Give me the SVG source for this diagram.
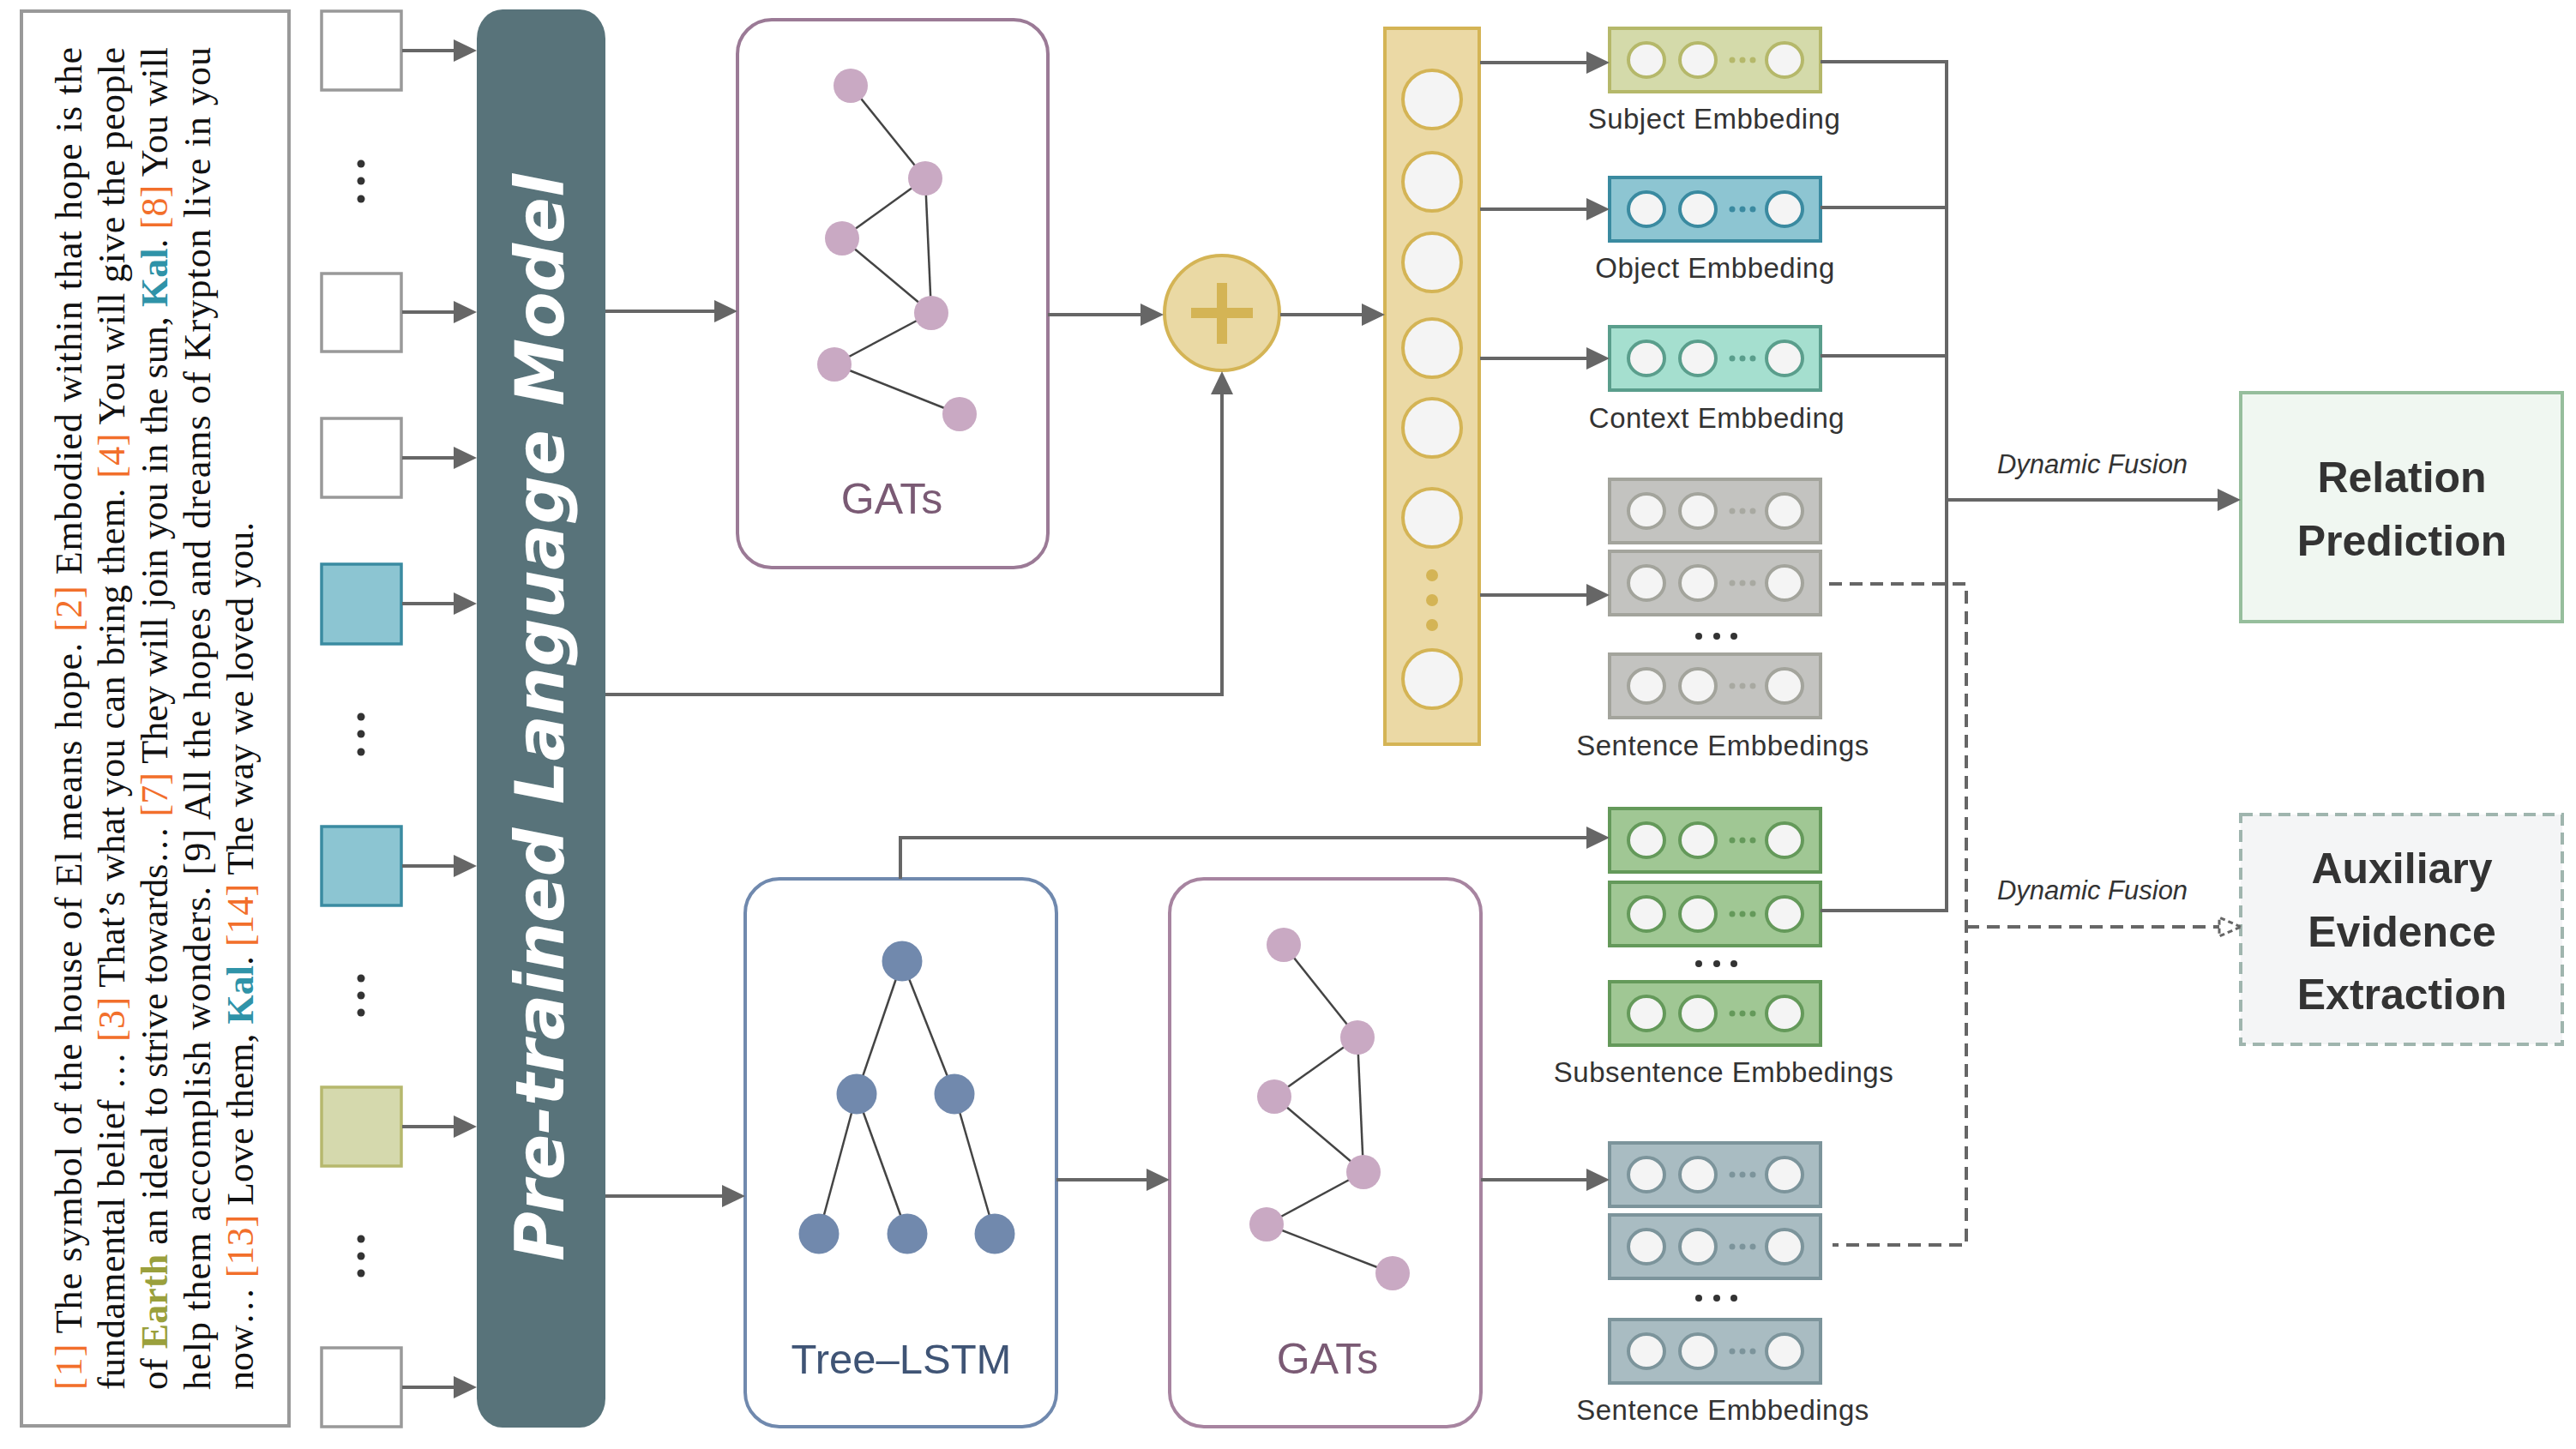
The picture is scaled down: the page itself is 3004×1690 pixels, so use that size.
<svg xmlns="http://www.w3.org/2000/svg" width="3004" height="1690" viewBox="0 0 3004 1690">
<defs>
<style>
.conn{fill:none;stroke:#666;stroke-width:4}
.dash{fill:none;stroke:#666;stroke-width:4;stroke-dasharray:15 9}
.edge{stroke:#444;stroke-width:2.5}
.pn{fill:#C9A9C3}
.tn{fill:#7189AD}
.inw{fill:#fff;stroke:#999;stroke-width:3.5}
.inb{fill:#8CC5D2;stroke:#3A8BA1;stroke-width:3.5}
.ino{fill:#D5D9AD;stroke:#B6B86D;stroke-width:3.5}
.dot{fill:#333}
.para{font-family:"Liberation Serif",serif;font-size:44px;fill:#111}
.o{fill:#F26F2B}
.e{fill:#9AA03C;font-weight:bold}
.k{fill:#2F93A8;font-weight:bold}
.lbl{font-family:"Liberation Sans",Arial,sans-serif;font-size:33px;fill:#333;text-anchor:middle;letter-spacing:0.5px}
.big{font-family:"Liberation Sans",Arial,sans-serif;font-size:50px;font-weight:bold;fill:#333;text-anchor:middle}
.df{font-family:"Liberation Sans",Arial,sans-serif;font-size:31px;font-style:italic;fill:#333;text-anchor:middle}
.cell{fill:#F4F4F4;stroke-width:4}
</style>
<marker id="ah" viewBox="0 0 27 26" refX="19" refY="13" markerWidth="27" markerHeight="26" markerUnits="userSpaceOnUse" orient="auto">
<path d="M0,0 L27,13 L0,26 z" fill="#666"/>
</marker>
</defs>

<g id="text-panel">
<rect x="25" y="13" width="312" height="1650" fill="#fff" stroke="#999" stroke-width="4"/>
<text class="para" transform="translate(95,1621) rotate(-90)" textLength="1566" lengthAdjust="spacing"><tspan class="o">[1]</tspan> The symbol of the house of El means hope. <tspan class="o">[2]</tspan> Embodied within that hope is the</text>
<text class="para" transform="translate(145,1621) rotate(-90)" textLength="1566" lengthAdjust="spacing">fundamental belief … <tspan class="o">[3]</tspan> That’s what you can bring them. <tspan class="o">[4]</tspan> You will give the people</text>
<text class="para" transform="translate(195,1621) rotate(-90)" textLength="1566" lengthAdjust="spacing">of <tspan class="e">Earth</tspan> an ideal to strive towards… <tspan class="o">[7]</tspan> They will join you in the sun, <tspan class="k">Kal</tspan>. <tspan class="o">[8]</tspan> You will</text>
<text class="para" transform="translate(245,1621) rotate(-90)" textLength="1566" lengthAdjust="spacing">help them accomplish wonders. [9] All the hopes and dreams of Krypton live in you</text>
<text class="para" transform="translate(295,1621) rotate(-90)">now… <tspan class="o">[13]</tspan> Love them, <tspan class="k">Kal</tspan>. <tspan class="o">[14]</tspan> The way we loved you.</text>
</g>

<g id="inputs">
<rect class="inw" x="375" y="13" width="93" height="92"/>
<rect class="inw" x="375" y="319" width="93" height="91"/>
<rect class="inw" x="375" y="488" width="93" height="92"/>
<rect class="inb" x="375" y="658" width="93" height="93"/>
<rect class="inb" x="375" y="964" width="93" height="92"/>
<rect class="ino" x="375" y="1268" width="93" height="92"/>
<rect class="inw" x="375" y="1572" width="93" height="92"/>
<circle class="dot" cx="421" cy="191" r="4.5"/><circle class="dot" cx="421" cy="211" r="4.5"/><circle class="dot" cx="421" cy="232" r="4.5"/>
<circle class="dot" cx="421" cy="836" r="4.5"/><circle class="dot" cx="421" cy="856" r="4.5"/><circle class="dot" cx="421" cy="877" r="4.5"/>
<circle class="dot" cx="421" cy="1141" r="4.5"/><circle class="dot" cx="421" cy="1161" r="4.5"/><circle class="dot" cx="421" cy="1181" r="4.5"/>
<circle class="dot" cx="421" cy="1445" r="4.5"/><circle class="dot" cx="421" cy="1465" r="4.5"/><circle class="dot" cx="421" cy="1485" r="4.5"/>
</g>

<g id="plm">
<rect x="556" y="11" width="150" height="1654" rx="30" ry="34" fill="#58737A"/>
<text transform="translate(657,837) rotate(-90)" text-anchor="middle" font-family="'DejaVu Sans',Verdana,sans-serif" font-size="79" font-weight="bold" font-style="italic" fill="#fff" textLength="1268" lengthAdjust="spacing">Pre-trained Language Model</text>
</g>

<g id="gats-top">
<rect x="860" y="23" width="362" height="639" rx="40" fill="#fff" stroke="#9B7A96" stroke-width="4"/>
<line class="edge" x1="992" y1="100" x2="1079" y2="208"/>
<line class="edge" x1="1079" y1="208" x2="982" y2="278"/>
<line class="edge" x1="1079" y1="208" x2="1086" y2="365"/>
<line class="edge" x1="982" y1="278" x2="1086" y2="365"/>
<line class="edge" x1="1086" y1="365" x2="973" y2="425"/>
<line class="edge" x1="973" y1="425" x2="1119" y2="483"/>
<circle class="pn" cx="992" cy="100" r="20"/>
<circle class="pn" cx="1079" cy="208" r="20"/>
<circle class="pn" cx="982" cy="278" r="20"/>
<circle class="pn" cx="1086" cy="365" r="20"/>
<circle class="pn" cx="973" cy="425" r="20"/>
<circle class="pn" cx="1119" cy="483" r="20"/>
<text x="1040" y="599" text-anchor="middle" font-family="'Liberation Sans',Arial,sans-serif" font-size="50" fill="#7A5A74">GATs</text>
</g>

<g id="plus">
<circle cx="1425" cy="365" r="67" fill="#EAD9A4" stroke="#D4B455" stroke-width="4"/>
<rect x="1389" y="359" width="72" height="12" fill="#D4B455"/>
<rect x="1419" y="330" width="12" height="71" fill="#D4B455"/>
</g>

<g id="column">
<rect x="1615" y="33" width="110" height="835" fill="#EBD9A5" stroke="#D4B455" stroke-width="4"/>
<g fill="#F4F4F4" stroke="#D4B455" stroke-width="4">
<ellipse cx="1670" cy="116" rx="34" ry="34"/>
<ellipse cx="1670" cy="212" rx="34" ry="34"/>
<ellipse cx="1670" cy="306" rx="34" ry="34"/>
<ellipse cx="1670" cy="406" rx="34" ry="34"/>
<ellipse cx="1670" cy="499" rx="34" ry="34"/>
<ellipse cx="1670" cy="604" rx="34" ry="34"/>
<ellipse cx="1670" cy="792" rx="34" ry="34"/>
</g>
<g fill="#D4B455">
<circle cx="1670" cy="671" r="7"/><circle cx="1670" cy="700" r="7"/><circle cx="1670" cy="729" r="7"/>
</g>
</g>

<g id="subject-emb">
<rect x="1877" y="33" width="246" height="74" fill="#D4DAAA" stroke="#B5B86A" stroke-width="4"/>
<g class="cell" stroke="#B5B86A"><ellipse cx="1920" cy="70" rx="21" ry="20"/><ellipse cx="1980" cy="70" rx="21" ry="20"/><ellipse cx="2081" cy="70" rx="21" ry="20"/></g>
<g fill="#B5B86A"><circle cx="2020" cy="70" r="3.5"/><circle cx="2032" cy="70" r="3.5"/><circle cx="2044" cy="70" r="3.5"/></g>
<text class="lbl" x="1999" y="150">Subject Embbeding</text>
</g>

<g id="object-emb">
<rect x="1877" y="207" width="246" height="74" fill="#8DC5D2" stroke="#3A8AA0" stroke-width="4"/>
<g class="cell" stroke="#3A8AA0"><ellipse cx="1920" cy="244" rx="21" ry="20"/><ellipse cx="1980" cy="244" rx="21" ry="20"/><ellipse cx="2081" cy="244" rx="21" ry="20"/></g>
<g fill="#3A8AA0"><circle cx="2020" cy="244" r="3.5"/><circle cx="2032" cy="244" r="3.5"/><circle cx="2044" cy="244" r="3.5"/></g>
<text class="lbl" x="2000" y="324">Object Embbeding</text>
</g>

<g id="context-emb">
<rect x="1877" y="381" width="246" height="74" fill="#A5DFCF" stroke="#5A9E8C" stroke-width="4"/>
<g class="cell" stroke="#5A9E8C"><ellipse cx="1920" cy="418" rx="21" ry="20"/><ellipse cx="1980" cy="418" rx="21" ry="20"/><ellipse cx="2081" cy="418" rx="21" ry="20"/></g>
<g fill="#5A9E8C"><circle cx="2020" cy="418" r="3.5"/><circle cx="2032" cy="418" r="3.5"/><circle cx="2044" cy="418" r="3.5"/></g>
<text class="lbl" x="2002" y="499">Context Embbeding</text>
</g>

<g id="sentence-emb-top">
<rect x="1877" y="559" width="246" height="74" fill="#C3C3C0" stroke="#A3A49C" stroke-width="4"/>
<rect x="1877" y="643" width="246" height="74" fill="#C3C3C0" stroke="#A3A49C" stroke-width="4"/>
<rect x="1877" y="763" width="246" height="74" fill="#C3C3C0" stroke="#A3A49C" stroke-width="4"/>
<g class="cell" stroke="#A3A49C">
<ellipse cx="1920" cy="596" rx="21" ry="20"/><ellipse cx="1980" cy="596" rx="21" ry="20"/><ellipse cx="2081" cy="596" rx="21" ry="20"/>
<ellipse cx="1920" cy="680" rx="21" ry="20"/><ellipse cx="1980" cy="680" rx="21" ry="20"/><ellipse cx="2081" cy="680" rx="21" ry="20"/>
<ellipse cx="1920" cy="800" rx="21" ry="20"/><ellipse cx="1980" cy="800" rx="21" ry="20"/><ellipse cx="2081" cy="800" rx="21" ry="20"/>
</g>
<g fill="#A8A9A1">
<circle cx="2020" cy="596" r="3.5"/><circle cx="2032" cy="596" r="3.5"/><circle cx="2044" cy="596" r="3.5"/>
<circle cx="2020" cy="680" r="3.5"/><circle cx="2032" cy="680" r="3.5"/><circle cx="2044" cy="680" r="3.5"/>
<circle cx="2020" cy="800" r="3.5"/><circle cx="2032" cy="800" r="3.5"/><circle cx="2044" cy="800" r="3.5"/>
</g>
<g class="dot"><circle cx="1981" cy="742" r="4"/><circle cx="2002" cy="742" r="4"/><circle cx="2022" cy="742" r="4"/></g>
<text class="lbl" x="2009" y="881">Sentence Embbedings</text>
</g>

<g id="subsentence-emb">
<rect x="1877" y="943" width="246" height="74" fill="#A0C794" stroke="#64995A" stroke-width="4"/>
<rect x="1877" y="1029" width="246" height="74" fill="#A0C794" stroke="#64995A" stroke-width="4"/>
<rect x="1877" y="1145" width="246" height="74" fill="#A0C794" stroke="#64995A" stroke-width="4"/>
<g class="cell" stroke="#64995A">
<ellipse cx="1920" cy="980" rx="21" ry="20"/><ellipse cx="1980" cy="980" rx="21" ry="20"/><ellipse cx="2081" cy="980" rx="21" ry="20"/>
<ellipse cx="1920" cy="1066" rx="21" ry="20"/><ellipse cx="1980" cy="1066" rx="21" ry="20"/><ellipse cx="2081" cy="1066" rx="21" ry="20"/>
<ellipse cx="1920" cy="1182" rx="21" ry="20"/><ellipse cx="1980" cy="1182" rx="21" ry="20"/><ellipse cx="2081" cy="1182" rx="21" ry="20"/>
</g>
<g fill="#64995A">
<circle cx="2020" cy="980" r="3.5"/><circle cx="2032" cy="980" r="3.5"/><circle cx="2044" cy="980" r="3.5"/>
<circle cx="2020" cy="1066" r="3.5"/><circle cx="2032" cy="1066" r="3.5"/><circle cx="2044" cy="1066" r="3.5"/>
<circle cx="2020" cy="1182" r="3.5"/><circle cx="2032" cy="1182" r="3.5"/><circle cx="2044" cy="1182" r="3.5"/>
</g>
<g class="dot"><circle cx="1981" cy="1124" r="4"/><circle cx="2002" cy="1124" r="4"/><circle cx="2022" cy="1124" r="4"/></g>
<text class="lbl" x="2010" y="1262">Subsentence Embbedings</text>
</g>

<g id="sentence-emb-bottom">
<rect x="1877" y="1333" width="246" height="74" fill="#A9BCC2" stroke="#7C949B" stroke-width="4"/>
<rect x="1877" y="1417" width="246" height="74" fill="#A9BCC2" stroke="#7C949B" stroke-width="4"/>
<rect x="1877" y="1539" width="246" height="74" fill="#A9BCC2" stroke="#7C949B" stroke-width="4"/>
<g class="cell" stroke="#7C949B">
<ellipse cx="1920" cy="1370" rx="21" ry="20"/><ellipse cx="1980" cy="1370" rx="21" ry="20"/><ellipse cx="2081" cy="1370" rx="21" ry="20"/>
<ellipse cx="1920" cy="1454" rx="21" ry="20"/><ellipse cx="1980" cy="1454" rx="21" ry="20"/><ellipse cx="2081" cy="1454" rx="21" ry="20"/>
<ellipse cx="1920" cy="1576" rx="21" ry="20"/><ellipse cx="1980" cy="1576" rx="21" ry="20"/><ellipse cx="2081" cy="1576" rx="21" ry="20"/>
</g>
<g fill="#7C949B">
<circle cx="2020" cy="1370" r="3.5"/><circle cx="2032" cy="1370" r="3.5"/><circle cx="2044" cy="1370" r="3.5"/>
<circle cx="2020" cy="1454" r="3.5"/><circle cx="2032" cy="1454" r="3.5"/><circle cx="2044" cy="1454" r="3.5"/>
<circle cx="2020" cy="1576" r="3.5"/><circle cx="2032" cy="1576" r="3.5"/><circle cx="2044" cy="1576" r="3.5"/>
</g>
<g class="dot"><circle cx="1981" cy="1514" r="4"/><circle cx="2002" cy="1514" r="4"/><circle cx="2022" cy="1514" r="4"/></g>
<text class="lbl" x="2009" y="1656">Sentence Embbedings</text>
</g>

<g id="tree-lstm">
<rect x="869" y="1025" width="363" height="639" rx="40" fill="#fff" stroke="#7089AE" stroke-width="4"/>
<line class="edge" x1="1052" y1="1121" x2="999" y2="1276"/>
<line class="edge" x1="1052" y1="1121" x2="1113" y2="1276"/>
<line class="edge" x1="999" y1="1276" x2="955" y2="1439"/>
<line class="edge" x1="999" y1="1276" x2="1058" y2="1439"/>
<line class="edge" x1="1113" y1="1276" x2="1160" y2="1439"/>
<circle class="tn" cx="1052" cy="1121" r="23.5"/>
<circle class="tn" cx="999" cy="1276" r="23.5"/>
<circle class="tn" cx="1113" cy="1276" r="23.5"/>
<circle class="tn" cx="955" cy="1439" r="23.5"/>
<circle class="tn" cx="1058" cy="1439" r="23.5"/>
<circle class="tn" cx="1160" cy="1439" r="23.5"/>
<text x="1051" y="1602" text-anchor="middle" font-family="'Liberation Sans',Arial,sans-serif" font-size="49" fill="#3F5475">Tree–LSTM</text>
</g>

<g id="gats-bottom">
<rect x="1364" y="1025" width="363" height="639" rx="40" fill="#fff" stroke="#A784A0" stroke-width="4"/>
<line class="edge" x1="1497" y1="1102" x2="1583" y2="1210"/>
<line class="edge" x1="1583" y1="1210" x2="1486" y2="1279"/>
<line class="edge" x1="1583" y1="1210" x2="1590" y2="1367"/>
<line class="edge" x1="1486" y1="1279" x2="1590" y2="1367"/>
<line class="edge" x1="1590" y1="1367" x2="1477" y2="1428"/>
<line class="edge" x1="1477" y1="1428" x2="1624" y2="1485"/>
<circle class="pn" cx="1497" cy="1102" r="20"/>
<circle class="pn" cx="1583" cy="1210" r="20"/>
<circle class="pn" cx="1486" cy="1279" r="20"/>
<circle class="pn" cx="1590" cy="1367" r="20"/>
<circle class="pn" cx="1477" cy="1428" r="20"/>
<circle class="pn" cx="1624" cy="1485" r="20"/>
<text x="1548" y="1602" text-anchor="middle" font-family="'Liberation Sans',Arial,sans-serif" font-size="50" fill="#7A5A74">GATs</text>
</g>

<g id="relation-prediction">
<rect x="2613" y="458" width="375" height="267" fill="#F0F7F1" stroke="#96BE9C" stroke-width="4"/>
<text class="big" x="2801" y="574">Relation</text>
<text class="big" x="2801" y="648">Prediction</text>
</g>

<g id="auxiliary-evidence">
<rect x="2613" y="950" width="375" height="268" fill="#F4F5F6" stroke="#9FB5AE" stroke-width="4" stroke-dasharray="14 8"/>
<text class="big" x="2801" y="1030">Auxiliary</text>
<text class="big" x="2801" y="1104">Evidence</text>
<text class="big" x="2801" y="1177">Extraction</text>
</g>

<g id="connectors">
<line class="conn" x1="469" y1="59" x2="548" y2="59" marker-end="url(#ah)"/>
<line class="conn" x1="469" y1="364" x2="548" y2="364" marker-end="url(#ah)"/>
<line class="conn" x1="469" y1="534" x2="548" y2="534" marker-end="url(#ah)"/>
<line class="conn" x1="469" y1="704" x2="548" y2="704" marker-end="url(#ah)"/>
<line class="conn" x1="469" y1="1010" x2="548" y2="1010" marker-end="url(#ah)"/>
<line class="conn" x1="469" y1="1314" x2="548" y2="1314" marker-end="url(#ah)"/>
<line class="conn" x1="469" y1="1618" x2="548" y2="1618" marker-end="url(#ah)"/>

<line class="conn" x1="706" y1="363" x2="852" y2="363" marker-end="url(#ah)"/>
<polyline class="conn" points="706,810 1425,810 1425,441" marker-end="url(#ah)"/>
<line class="conn" x1="706" y1="1395" x2="861" y2="1395" marker-end="url(#ah)"/>

<line class="conn" x1="1222" y1="367" x2="1349" y2="367" marker-end="url(#ah)"/>
<line class="conn" x1="1493" y1="367" x2="1607" y2="367" marker-end="url(#ah)"/>

<line class="conn" x1="1726" y1="73" x2="1869" y2="73" marker-end="url(#ah)"/>
<line class="conn" x1="1726" y1="244" x2="1869" y2="244" marker-end="url(#ah)"/>
<line class="conn" x1="1726" y1="418" x2="1869" y2="418" marker-end="url(#ah)"/>
<line class="conn" x1="1726" y1="694" x2="1869" y2="694" marker-end="url(#ah)"/>

<polyline class="conn" points="1050,1025 1050,977 1869,977" marker-end="url(#ah)"/>
<line class="conn" x1="1232" y1="1376" x2="1356" y2="1376" marker-end="url(#ah)"/>
<line class="conn" x1="1727" y1="1376" x2="1869" y2="1376" marker-end="url(#ah)"/>

<polyline class="conn" points="2123,72 2270,72 2270,1062 2123,1062"/>
<line class="conn" x1="2123" y1="242" x2="2270" y2="242"/>
<line class="conn" x1="2123" y1="415" x2="2270" y2="415"/>
<line class="conn" x1="2270" y1="583" x2="2605" y2="583" marker-end="url(#ah)"/>

<polyline class="dash" points="2133,681 2293,681 2293,1452 2137,1452"/>
<line class="dash" x1="2293" y1="1081" x2="2588" y2="1081"/>
<polygon points="2613,1081 2588,1070 2588,1092" fill="#fff" stroke="#666" stroke-width="3" stroke-dasharray="6 4"/>

<text class="df" x="2440" y="552">Dynamic Fusion</text>
<text class="df" x="2440" y="1049">Dynamic Fusion</text>
</g>
</svg>
